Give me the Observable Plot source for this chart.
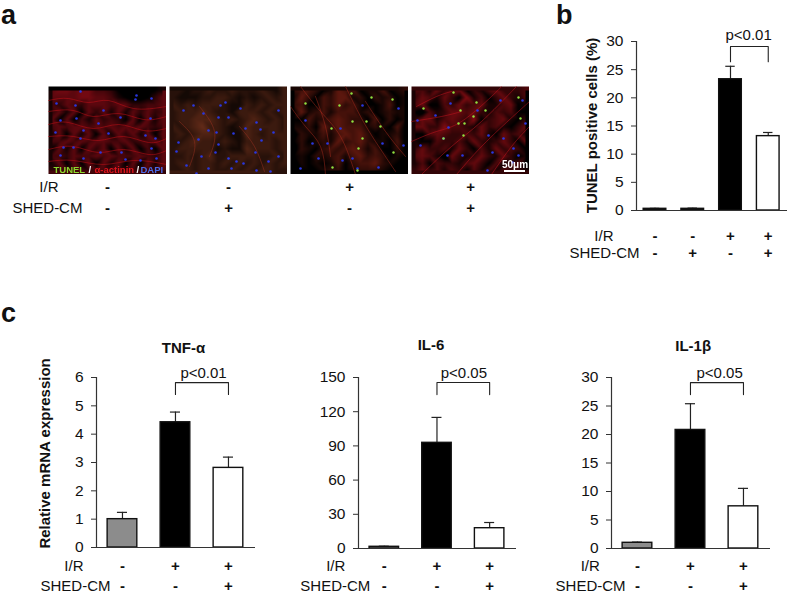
<!DOCTYPE html>
<html><head><meta charset="utf-8">
<script src="https://cdn.jsdelivr.net/npm/d3@7"></script>
<script src="https://cdn.jsdelivr.net/npm/@observablehq/plot@0.6"></script>
<style>
html,body{margin:0;padding:0;background:#fff;overflow:hidden}
#page{position:relative;width:787px;height:593px;font-family:"Liberation Sans",Arial,sans-serif;color:#111}
#page>svg{position:absolute;background:none}
.letter{position:absolute;font-weight:bold;font-size:27px;line-height:30px}
</style></head><body><div id="page"></div>
<script>
const irSigns = ["-","-","+","+"], cmSigns = ["-","+","-","+"];
const irSigns3 = ["-","+","+"], cmSigns3 = ["-","-","+"];
const groupPos4 = [1,2,3,4], groupPos3 = [1,2,3];
const tunelVals = [0.3,0.3,23.3,13.2], tunelErr = [0.38,0.42,25.6,13.85], tunelTicks = [0,5,10,15,20,25,30];
const tnfVals = [1,4.42,2.81], tnfErr = [1.24,4.78,3.19], tnfTicks = [0,1,2,3,4,5,6];
const il6Vals = [1.5,92.7,17.8], il6Err = [2,115,22.8], il6Ticks = [0,30,60,90,120,150];
const il1Vals = [1,20.8,7.4], il1Err = [1.12,25.4,10.55], il1Ticks = [0,5,10,15,20,25,30];
const fills4 = ["#111","#111","#000","#fff"], fills3 = ["#8c8c8c","#000","#fff"];

// micrograph brightness read per region of each panel (digit per region)
const panel1 = ["5665664431000012","5555665542100135","4354355545533445","3525153525253534","5151425343151525","4545545454545434","2515251525352515","4454545544534454","1525153515251415","4435445454445435","2515151525151525","3344434444343434"];
const panel2 = ["3323343343334324","3222334432323434","4343444322434344","3444543324443434","3445554343454343","4345644323544443","3434554322543444","3345443432444434","3444442322544434","3343453344443343","3443443434343434","3343443343434433"];
const panel3 = ["3443125441224123","2531435523132312","3411435342112412","1523424442312322","1142345433141312","2231535444232141","0322424545312231","1312325345322141","0321343454241131","1213234245343121","0212124134453211","1111233123332111"];
const panel4 = ["4425345132453334","3542531624135324","4511435345224512","1042355453243411","3552454361345213","5533644325342135","1145433435215342","2114334253235315","3533425314253431","4542053235325312","2414332453142341","3534243142424332"];
const blue1 = [[32,5],[88,9],[103,12],[8,17],[27,19],[87,13],[55,24],[12,34],[28,32],[102,32],[72,31],[50,37],[7,46],[35,44],[32,52],[97,49],[107,52],[60,47],[25,61],[52,66],[73,66],[103,62],[77,73],[12,69],[92,74],[35,72],[108,72],[15,61]];
const blue2 = [[14,24],[24,19],[51,19],[56,16],[71,22],[34,27],[49,31],[59,31],[87,36],[109,24],[39,44],[47,46],[76,42],[91,43],[104,46],[9,56],[29,53],[49,58],[64,47],[92,54],[7,65],[32,70],[46,66],[86,66],[67,75],[59,72],[99,75],[109,70],[17,79],[39,82],[62,82],[87,84],[101,85],[74,77],[27,87]];
const blue3 = [[50,42],[37,57],[22,57],[15,34],[62,72],[52,74],[92,57],[72,19],[108,22],[113,59],[10,82],[67,82],[28,72],[88,81]];
const blue4 = [[92,52],[77,49],[37,41],[39,17],[24,29],[107,69],[102,62],[114,37],[32,52],[89,14],[81,66],[111,14],[6,34],[9,59],[51,69],[76,84],[36,69],[101,76],[66,24]];
const green3 = [[61,7],[81,11],[102,13],[49,19],[62,35],[76,35],[90,40],[72,52],[68,62],[41,42],[42,81],[67,84],[15,17],[103,66]];
const green4 = [[74,24],[49,24],[47,37],[53,37],[62,30],[32,52],[42,6],[107,11],[52,49],[12,22],[109,32],[65,16]];
// fibres seen in the micrographs
const fibres1 = [[[0,14],[20,12],[40,16],[60,14],[85,22],[118,20]],[[0,25],[25,24],[45,30],[70,27],[95,33],[118,30]],[[0,38],[20,36],[45,42],[70,38],[95,44],[118,42]],[[0,50],[25,50],[50,54],[75,50],[100,56],[118,52]],[[0,63],[25,60],[50,66],[75,63],[100,68],[118,64]],[[0,75],[25,74],[55,78],[85,74],[118,78]]];
const fibres2 = [[[30,20],[45,45],[40,70]],[[70,40],[85,60],[95,85]],[[10,35],[25,55],[20,80]]];
const fibres3 = [[[10,0],[30,25],[50,50],[65,88]],[[55,0],[70,30],[85,55],[105,85]],[[25,10],[35,40],[40,70]],[[0,20],[15,40],[30,60],[35,88]],[[75,15],[95,45],[115,70]]];
const fibres4 = [[[0,55],[25,45],[50,35],[80,10],[90,0]],[[10,88],[40,60],[70,35],[105,0]],[[45,88],[75,55],[118,15]],[[80,88],[100,60],[118,40]],[[5,20],[25,10],[40,5]],[[0,35],[30,30],[50,25]]];
const stainWords = [["TUNEL",5,"#8ad82c"],["/",40,"#fff"],["α-actinin",46,"#e0141c"],["/",88,"#fff"],["DAPI",92,"#4a6ae8"]];

const FONT = '"Liberation Sans",Arial,sans-serif';
const page = document.getElementById("page");
function place(svg,left,top){svg.style.left=left+"px";svg.style.top=top+"px";page.appendChild(svg);return svg;}
function letter(t,l,top){const d=document.createElement("div");d.className="letter";d.textContent=t;d.style.left=l+"px";d.style.top=top+"px";page.appendChild(d);}
letter("a",1,0);letter("b",556,0);letter("c",1,298);

// panel a micrographs
const panels = [
 {grid:panel1,blue:blue1,green:[],fibres:fibres1,left:48,hi:"#a00c18",line:"#c81018"},
 {grid:panel2,blue:blue2,green:[],fibres:fibres2,left:169,hi:"#8a3c22",line:"#983020"},
 {grid:panel3,blue:blue3,green:green3,fibres:fibres3,left:290,hi:"#a02818",line:"#a82a1c"},
 {grid:panel4,blue:blue4,green:green4,fibres:fibres4,left:411,hi:"#b01018",line:"#c81420"}
];
panels.forEach((p,pi)=>{
  const cells=[];
  p.grid.forEach((row,r)=>[...row].forEach((c,k)=>cells.push({x:(k+.5)*118/16,y:(r+.5)*88/12,v:+c})));
  const marks=[
    Plot.raster(cells,{x:"x",y:"y",fill:"v",interpolate:"barycentric",x1:0,x2:118,y1:88,y2:0,pixelSize:1}),
    ...p.fibres.map(f=>Plot.line(f,{x:d=>d[0],y:d=>d[1],curve:"natural",stroke:p.line,strokeWidth:1,strokeOpacity:.5})),
    Plot.dot(p.blue,{x:d=>d[0],y:d=>d[1],r:1.3,fill:"#2a38e0"}),
    Plot.dot(p.green,{x:d=>d[0],y:d=>d[1],r:1.2,fill:"#90e040"})
  ];
  if(pi===0) marks.push(Plot.text(stainWords,{x:d=>d[1],y:83,text:d=>d[0],fill:d=>d[2],textAnchor:"start",fontSize:9.5,fontWeight:"bold"}));
  if(pi===3) marks.push(
    Plot.rect([[93,114]],{x1:d=>d[0],x2:d=>d[1],y1:84,y2:86,fill:"#fff"}),
    Plot.text(["50μm"],{x:103.5,y:78,text:d=>d,fill:"#fff",fontSize:10,fontWeight:"bold"}));
  place(Plot.plot({width:118,height:88,margin:0,
    x:{domain:[0,118],axis:null},y:{domain:[88,0],axis:null},
    color:{type:"linear",domain:[1,8],range:["#000",p.hi],clamp:true},
    style:{fontFamily:FONT,background:"none",filter:"blur(0.45px)"},marks}),p.left,86);
});

// condition rows
function rows(pos,ir,cm,labIR,labCM,dy1,dy2,anchor){
  const T=(arr,xs,dy)=>Plot.text(arr,{x:(d,i)=>xs[i],text:d=>d,frameAnchor:anchor,dy,lineAnchor:"bottom",fontSize:15,fill:"#111",fontWeight:"bold"});
  return [T(ir,pos,dy1),T(cm,pos,dy2),
    Plot.text(["I/R"],{x:labIR,frameAnchor:anchor,dy:dy1,textAnchor:"end",lineAnchor:"bottom",fontSize:15,fill:"#111"}),
    Plot.text(["SHED-CM"],{x:labCM,frameAnchor:anchor,dy:dy2,textAnchor:"end",lineAnchor:"bottom",fontSize:15,fill:"#111"})];
}
place(Plot.plot({width:540,height:50,marginLeft:46.5,marginRight:9.5,marginTop:0,marginBottom:0,
  x:{domain:[.5,4.5],axis:null},y:{domain:[0,1],axis:null},
  style:{fontFamily:FONT,background:"none"},
  marks:rows(groupPos4,irSigns,cmSigns,0.595,0.793,16,37,"top")}),0,175);

// bar charts
function chart(o){
  const rowsData=o.pos.map((x,i)=>({x,v:o.vals[i],e:o.err[i],f:o.fills[i]}));
  const [bx1,bx2,bt,bb]=o.bracket;
  const marks=[
    Plot.ruleX(rowsData,{x:"x",y1:"v",y2:"e",stroke:"#222",strokeWidth:1.2}),
    Plot.ruleY(rowsData,{x1:d=>d.x-o.cap,x2:d=>d.x+o.cap,y:"e",stroke:"#222",strokeWidth:1.2}),
    Plot.rectY(rowsData,{x1:d=>d.x-o.hw,x2:d=>d.x+o.hw,y1:0,y2:"v",fill:"f",stroke:"#111",strokeWidth:1.4}),
    Plot.ruleX([o.domain[0]],{stroke:"#333",strokeWidth:1.2}),
    Plot.ruleY([0],{stroke:"#333",strokeWidth:1.2}),
    Plot.axisY({ticks:o.ticks,tickSize:5,tickPadding:8,label:null,fontSize:15.5,stroke:"#333",color:"#111",tickFormat:d=>String(d)}),
    Plot.line([[bx1,bb],[bx1,bt],[bx2,bt],[bx2,bb]],{x:d=>d[0],y:d=>d[1],stroke:"#222",strokeWidth:1.1}),
    Plot.text([o.p],{x:o.pxy[0],y:o.pxy[1],text:d=>d,fontSize:15,lineAnchor:"bottom",fill:"#111"}),
    ...rows(o.pos,o.ir,o.cm,o.lab[0],o.lab[1],o.dy[0],o.dy[1],"bottom")
  ];
  if(o.ylabel) marks.push(Plot.text([o.ylabel],{x:o.ylxy[0],y:o.ylxy[1],text:d=>d,rotate:-90,fontSize:o.ylsize,fontWeight:"bold",fill:"#111"}));
  if(o.title) marks.push(Plot.text([o.title],{x:o.txy[0],y:o.txy[1],text:d=>d,fontSize:15,fontWeight:"bold",lineAnchor:"bottom",fill:"#111"}));
  place(Plot.plot({width:o.w,height:o.h,marginLeft:o.ml,marginRight:o.mr,marginTop:o.mt,marginBottom:o.mb,
    x:{domain:o.domain,axis:null},y:{domain:[0,o.max],axis:null},
    style:{fontFamily:FONT,background:"none",overflow:"visible"},marks}),o.left,o.top);
}
chart({left:540,top:0,w:247,h:270,ml:96,mr:0,mt:41,mb:60,domain:[.51,4.51],max:30,pos:groupPos4,vals:tunelVals,err:tunelErr,fills:fills4,ticks:tunelTicks,
  hw:.3,cap:.125,bracket:[3,4,29.1,26.4],p:"p<0.01",pxy:[3.48,30.3],ir:irSigns,cm:cmSigns,lab:[-.1,.589],dy:[30,47.5],ylabel:"TUNEL positive cells (%)",ylxy:[-.66,15.1],ylsize:15});
chart({left:0,top:330,w:270,h:263,ml:96,mr:15,mt:47,mb:46,domain:[.51,3.51],max:6,pos:groupPos3,vals:tnfVals,err:tnfErr,fills:fills3,ticks:tnfTicks,
  hw:.28,cap:.095,bracket:[2,3,5.82,5.4],p:"p<0.01",pxy:[2.53,6],ir:irSigns3,cm:cmSigns3,lab:[.264,.774],dy:[23,43],title:"TNF-α",txy:[2.15,6.88],ylabel:"Relative mRNA expression",ylxy:[-.45,3.32],ylsize:15});
chart({left:270,top:330,w:260,h:263,ml:88,mr:14,mt:47,mb:45,domain:[.51,3.51],max:150,pos:groupPos3,vals:il6Vals,err:il6Err,fills:fills3,ticks:il6Ticks,
  hw:.28,cap:.095,bracket:[2,3,145.6,135],p:"p<0.05",pxy:[2.51,150],ir:irSigns3,cm:cmSigns3,lab:[.26,.734],dy:[22,42],title:"IL-6",txy:[1.887,173.7]});
chart({left:530,top:330,w:257,h:263,ml:81,mr:17,mt:47,mb:45,domain:[.51,3.51],max:30,pos:groupPos3,vals:il1Vals,err:il1Err,fills:fills3,ticks:il1Ticks,
  hw:.28,cap:.095,bracket:[2,3,29.1,27],p:"p<0.05",pxy:[2.55,30],ir:irSigns3,cm:cmSigns3,lab:[.29,.776],dy:[22,42],title:"IL-1β",txy:[2.05,34.7]});
</script></body></html>
